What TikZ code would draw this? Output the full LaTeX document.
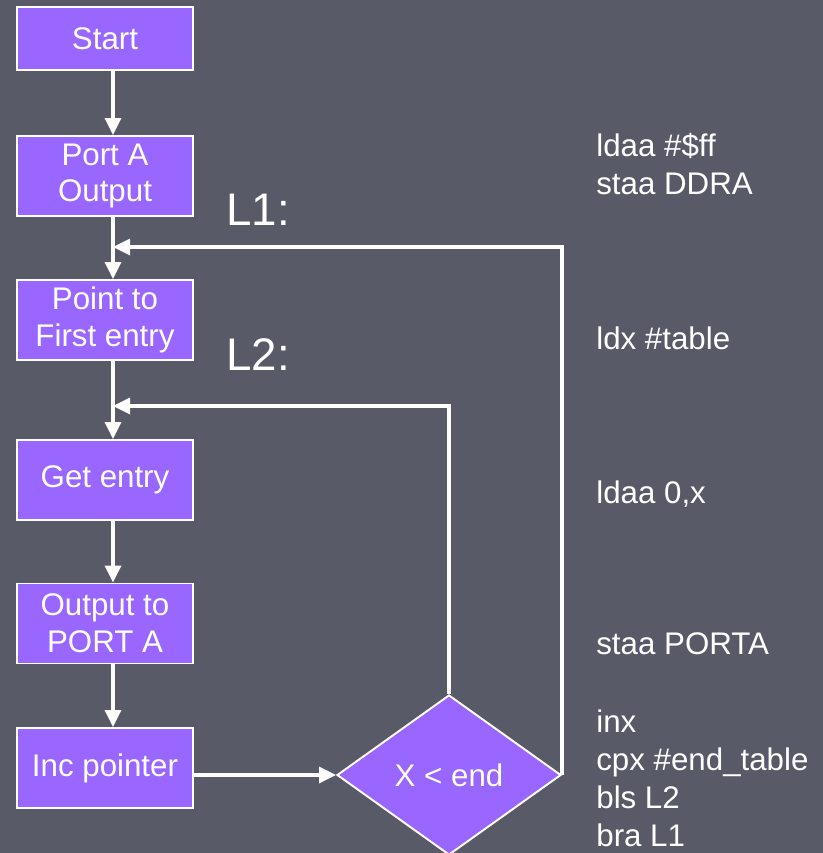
\documentclass[tikz,border=0pt]{standalone}
\usepackage{fontspec}
\setmainfont{Liberation Sans}
\usepackage{xcolor}
\definecolor{flowbg}{RGB}{88,90,104}
\definecolor{flowpurple}{RGB}{153,102,255}
\usepackage{tikz}
\usetikzlibrary{arrows.meta,positioning,shapes.geometric}
\tikzset{
  flow box/.style={draw=white, fill=flowpurple, line width=1.1pt, minimum width=3.52cm, minimum height=1.60cm, align=center, text=white, inner sep=0pt, font=\fontsize{17.8}{21}\selectfont},
  flow test/.style={diamond, draw=white, fill=flowpurple, line width=1.1pt, minimum width=4.48cm, minimum height=3.20cm, inner sep=0pt, text=white, font=\fontsize{17.8}{21}\selectfont},
  flow edge/.style={-{Triangle[length=0.34cm, width=0.32cm]}, white, line width=1.9pt},
  flow label/.style={text=white, anchor=west, inner sep=0pt, font=\fontsize{26}{30}\selectfont},
  flow code/.style={text=white, anchor=base west, align=left, inner sep=0pt, font=\fontsize{17.8}{21.5}\selectfont},
}

\begin{document}
\begin{tikzpicture}
  \fill[flowbg] (0,0) rectangle (16.46,-17.06);
  \useasboundingbox (0,0) rectangle (16.46,-17.06);
  % flow chart
  \node[flow box, minimum height=1.26cm] (start) at (2.10,-0.77) {Start};
  \node[flow box] (porta) at (2.10,-3.52) {Port A\\Output};
  \node[flow box] (first) at (2.10,-6.40) {Point to\\First entry};
  \node[flow box] (getentry) at (2.10,-9.60) {Get entry};
  \node[flow box] (output) at (2.10,-12.47) {Output to\\PORT A};
  \node[flow box] (incptr) at (2.10,-15.36) {Inc pointer};
  \node[flow test] (test) at (8.98,-15.50) {X < end};
  \coordinate (spine) at (2.26,0);
  \coordinate (l1) at (2.26,-4.94);
  \coordinate (l2) at (2.26,-8.12);
  \draw[flow edge] (start.south -| spine) -- (porta.north -| spine);
  \draw[flow edge] (porta.south -| spine) -- (first.north -| spine);
  \draw[flow edge] (first.south -| spine) -- (getentry.north -| spine);
  \draw[flow edge] (getentry.south -| spine) -- (output.north -| spine);
  \draw[flow edge] (output.south -| spine) -- (incptr.north -| spine);
  \draw[flow edge] (incptr.east |- test.west) -- (test.west);
  \draw[flow edge] (test.north) |- (l2);
  \draw[flow edge] (test.east) |- (l1);
  \node[flow label] (lab1) at (4.52,-4.20) {L1:};
  \node[flow label] (lab2) at (4.52,-7.10) {L2:};
  % assembly listing (anchored on the last line)
  \node[flow code] (code1) at (11.92,-3.88) {ldaa \#\$ff\\staa DDRA};
  \node[flow code] (code2) at (11.92,-6.98) {ldx \#table};
  \node[flow code] (code3) at (11.92,-10.06) {ldaa 0,x};
  \node[flow code] (code4) at (11.92,-13.08) {staa PORTA};
  \node[flow code] (code5) at (11.92,-16.92) {inx\\cpx \#end\_table\\bls L2\\bra L1};
\end{tikzpicture}
\end{document}
